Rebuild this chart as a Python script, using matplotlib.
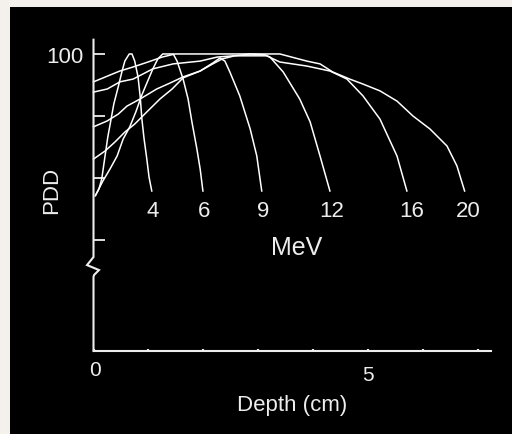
import matplotlib
matplotlib.use("Agg")
import matplotlib.pyplot as plt
from matplotlib.patches import Rectangle

# ---- data (depth in cm, PDD in %) ----
energies = ["4", "6", "9", "12", "16", "20"]

depth_4 = [0.03, 0.10, 0.15, 0.21, 0.26, 0.32, 0.37, 0.45, 0.52, 0.57, 0.65, 0.70,
           0.75, 0.81, 0.85, 0.88, 0.92, 0.97, 1.01, 1.06]
pdd_4 = [54.2, 56.5, 59.7, 67.1, 73.2, 79.0, 83.9, 89.4, 94.5, 97.7, 100, 100,
         97.7, 92.6, 86.1, 79.0, 72.6, 66.1, 60.3, 55.8]

depth_6 = [0.04, 0.17, 0.30, 0.43, 0.54, 0.66, 0.77, 0.88, 0.97, 1.08, 1.17, 1.26,
           1.45, 1.52, 1.63, 1.72, 1.79, 1.88, 1.94, 1.99]
pdd_6 = [54.5, 59.0, 62.9, 67.1, 72.6, 76.5, 81.3, 86.8, 90.6, 95.2, 98.4, 100,
         100, 97.7, 91.9, 85.5, 78.1, 69.4, 62.9, 55.8]

depth_9 = [0.0, 0.21, 0.39, 0.57, 0.75, 0.97, 1.21, 1.43, 1.63, 1.94, 2.17, 2.30,
           2.39, 2.48, 2.66, 2.85, 2.97, 3.06]
pdd_9 = [66.1, 68.7, 71.6, 74.8, 77.4, 81.3, 85.5, 88.7, 92.3, 94.5, 97.1, 98.7,
         97.7, 94.2, 86.5, 75.8, 67.1, 55.8]

depth_12 = [0.0, 0.25, 0.45, 0.61, 0.85, 1.15, 1.39, 1.63, 1.94, 2.17, 2.34, 2.57,
            2.85, 3.12, 3.21, 3.45, 3.75, 3.94, 4.12, 4.30]
pdd_12 = [76.5, 78.4, 80.6, 83.2, 85.5, 88.7, 90.6, 92.6, 94.5, 96.8, 98.4, 99.4,
          100, 99.7, 99.0, 94.2, 85.5, 78.1, 67.1, 55.8]

depth_16 = [0.0, 0.25, 0.48, 0.72, 1.08, 1.45, 1.94, 2.25, 2.54, 3.15, 3.39, 3.88,
            4.30, 4.61, 4.90, 5.21, 5.52, 5.70]
pdd_16 = [87.7, 88.7, 91.0, 91.9, 95.2, 96.8, 97.7, 99.0, 99.4, 99.4, 97.4, 96.1,
          94.5, 91.9, 86.5, 79.0, 67.1, 55.8]

depth_20 = [0.0, 0.30, 0.48, 0.72, 0.99, 1.25, 1.48, 3.39, 3.88, 4.12, 4.35, 4.66,
            4.90, 5.21, 5.52, 5.81, 6.12, 6.43, 6.61, 6.75]
pdd_20 = [91.0, 93.2, 94.5, 95.8, 97.4, 99.0, 100, 100, 97.7, 96.8, 94.2, 91.9,
          90.3, 88.1, 84.8, 80.0, 75.8, 70.3, 63.9, 55.8]

y_ticks = [100, 80, 60, 40]
x_ticks = [0, 1, 2, 3, 4, 5, 6, 7]

curves = [(depth_4, pdd_4), (depth_6, pdd_6), (depth_9, pdd_9),
          (depth_12, pdd_12), (depth_16, pdd_16), (depth_20, pdd_20)]

# ---- figure ----
W, H = 512, 435
fig = plt.figure(figsize=(W / 100, H / 100), dpi=100)
fig.patch.set_facecolor("#f4f0ec")
fig.patches.append(Rectangle((10 / W, 0), 1, 1 - 8 / H, transform=fig.transFigure,
                             facecolor="black", edgecolor="none", zorder=-10))

ax = fig.add_axes([93.5 / W, 1 - 352 / H, (491 - 93.5) / W, (352 - 40.7) / H])
ax.set_zorder(5)
ax.set_facecolor("none")
ax.set_xlim(0, 7.23)
ax.set_ylim(4.19, 104.6)

fg = "#ededed"
font = "Liberation Sans"

for d, p in curves:
    ax.plot(d, p, color="white", lw=1.1, solid_joinstyle="round", clip_on=False)

# spines
for s in ["top", "right", "left"]:
    ax.spines[s].set_visible(False)
ax.spines["bottom"].set_color(fg)
ax.spines["bottom"].set_linewidth(1.5)

# broken y axis
ax.plot([0, 0, -0.118, 0.10, 0.01, 0, 0],
        [104.6, 34.5, 31.9, 30.3, 28.7, 28.1, 4.19],
        color=fg, lw=1.5, clip_on=False, solid_joinstyle="miter")

ax.set_yticks(y_ticks)
ax.set_yticklabels([])
ax.tick_params(axis="y", direction="in", length=7.7, width=1.3, color=fg)
ax.set_xticks(x_ticks)
ax.set_xticklabels([])
ax.tick_params(axis="x", direction="in", length=1.6, width=1.6, color=fg)

# energy labels
label_x = [1.08, 2.01, 3.09, 4.33, 5.79, 6.81]
for e, x in zip(energies, label_x):
    ax.text(x, 47.8, e, ha="center", va="baseline", color=fg,
            fontsize=16, family=font)
ax.text(3.69, 35.5, "MeV", ha="center", va="baseline", color=fg,
        fontsize=18, family=font)

# axis texts
fig.text(83 / W, 1 - 62.7 / H, "100", ha="right", va="baseline", color=fg,
         fontsize=16, family=font)
fig.text(94.5 / W, 1 - 376 / H, "0", ha="center", va="baseline", color=fg,
         fontsize=15, family=font)
fig.text(368.3 / W, 1 - 381 / H, "5", ha="center", va="baseline", color=fg,
         fontsize=15, family=font)
fig.text(291.7 / W, 1 - 411 / H, "Depth (cm)", ha="center", va="baseline",
         color=fg, fontsize=16, family=font)
fig.text(51.7 / W, 1 - 190 / H, "PDD", ha="center", va="center", rotation=90,
         color=fg, fontsize=16, family=font)

fig.savefig("out.png", dpi=100, facecolor=fig.get_facecolor())
